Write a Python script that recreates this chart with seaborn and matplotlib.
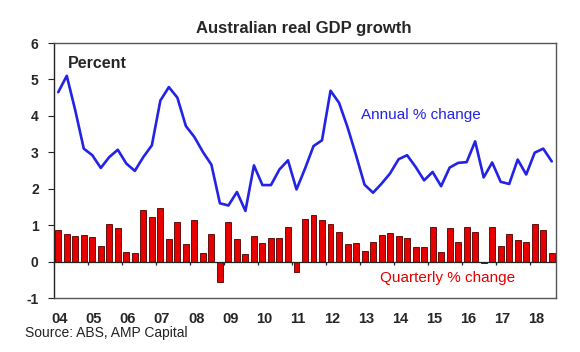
import matplotlib
matplotlib.use("Agg")
import matplotlib.pyplot as plt
import seaborn as sns
import pandas as pd
import numpy as np

# Quarterly data, Mar-2004 quarter to Sep-2018 quarter
quarterly = [0.87, 0.77, 0.69, 0.72, 0.68, 0.42, 1.02, 0.92, 0.26, 0.24,
             1.42, 1.21, 1.46, 0.62, 1.08, 0.49, 1.15, 0.24, 0.75, -0.55,
             1.08, 0.62, 0.22, 0.71, 0.51, 0.64, 0.66, 0.96, -0.29, 1.18,
             1.28, 1.15, 1.03, 0.81, 0.49, 0.50, 0.28, 0.55, 0.73, 0.78,
             0.70, 0.66, 0.41, 0.41, 0.94, 0.26, 0.93, 0.54, 0.96, 0.82,
             -0.05, 0.96, 0.42, 0.77, 0.59, 0.53, 1.03, 0.88, 0.24]
annual = [4.65, 5.10, 4.15, 3.10, 2.92, 2.57, 2.87, 3.07, 2.69, 2.49,
          2.87, 3.19, 4.42, 4.79, 4.50, 3.72, 3.42, 3.01, 2.66, 1.60,
          1.54, 1.91, 1.39, 2.64, 2.10, 2.10, 2.53, 2.78, 1.98, 2.55,
          3.17, 3.33, 4.69, 4.36, 3.69, 2.92, 2.11, 1.89, 2.14, 2.42,
          2.81, 2.92, 2.60, 2.23, 2.46, 2.07, 2.58, 2.71, 2.73, 3.30,
          2.31, 2.72, 2.19, 2.13, 2.80, 2.39, 2.99, 3.10, 2.75]
year_labels = ["04", "05", "06", "07", "08", "09", "10", "11", "12",
               "13", "14", "15", "16", "17", "18"]
y_ticks = [-1, 0, 1, 2, 3, 4, 5, 6]

df = pd.DataFrame({"q": np.arange(len(quarterly)),
                   "quarterly": quarterly,
                   "annual": annual})

sns.set_theme(style="white")
plt.rcParams["font.family"] = ["Liberation Sans", "DejaVu Sans"]

fig = plt.figure(figsize=(5.8, 3.52), dpi=100)
ax = fig.add_axes([0.0931, 0.1534, 0.8655, 0.7244])

RED = "#e60000"
BLUE = "#2323e6"

sns.barplot(data=df, x="q", y="quarterly", ax=ax, color=RED, saturation=1,
            width=0.7, edgecolor="#4a0000", linewidth=0.6, zorder=2)
sns.lineplot(data=df, x="q", y="annual", ax=ax, color=BLUE, lw=1.9,
             zorder=3)

n = len(quarterly)
ax.set_xlim(-0.5, n - 0.5)
ax.set_ylim(-1, 6)
ax.axhline(0, color="#222222", lw=0.9, zorder=2.5)
# year-boundary ticks on the zero line
bounds = np.arange(3.5, n - 0.5, 4)
ax.vlines(bounds, -0.09, 0, color="#222222", lw=0.9, zorder=2.5)

ax.set_xticks(np.arange(0, n, 4) + 0.2)
ax.set_xticklabels(year_labels, fontweight="bold", fontsize=10.5)
ax.tick_params(axis="x", length=0, pad=10)
ax.set_yticks(y_ticks)
ax.set_yticklabels([str(t) for t in y_ticks], fontweight="bold", fontsize=10)
ax.tick_params(axis="y", left=True, length=4, width=0.8, pad=7,
               color="#222222")
ax.set_xlabel("")
ax.set_ylabel("")

for s in ax.spines.values():
    s.set_color("#555555")
    s.set_linewidth(1.0)
ax.spines["left"].set_color("#222222")

ax.text(1.1, 5.45, "Percent", fontsize=11.5, fontweight="bold",
        va="center", ha="left")
ax.text(35.6, 4.03, "Annual % change", fontsize=11, color=BLUE,
        va="center", ha="left")
ax.text(37.8, -0.45, "Quarterly % change", fontsize=11, color=RED,
        va="center", ha="left")

fig.text(0.338, 0.907, "Australian real GDP growth", fontsize=12,
         fontweight="bold", ha="left", va="baseline")
fig.text(0.043, 0.054, "Source: ABS, AMP Capital", fontsize=10,
         ha="left", va="center", color="#222222")

fig.savefig("out.png", dpi=100, facecolor="white")
